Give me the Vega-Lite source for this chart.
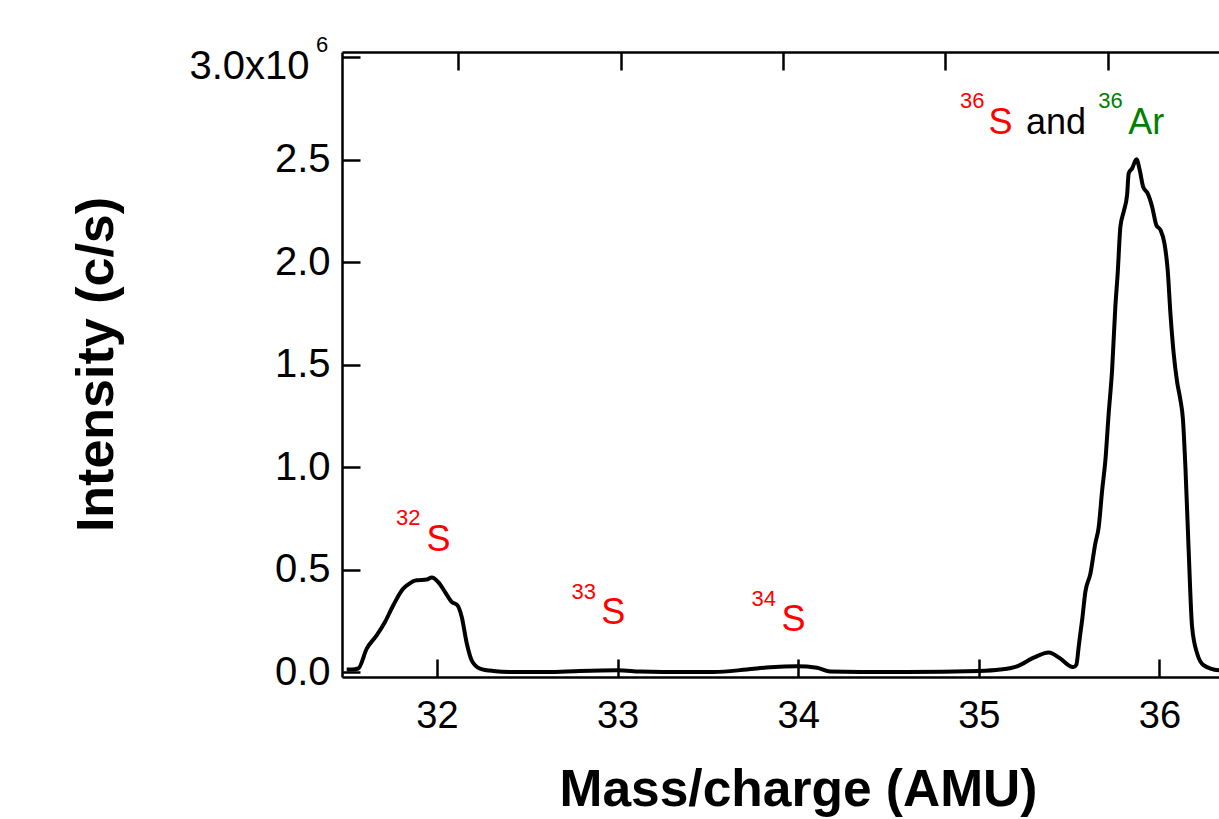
{
  "$schema": "https://vega.github.io/schema/vega-lite/v6.json",
  "width": 877,
  "height": 625,
  "autosize": {"type": "none"},
  "padding": {"left": 342, "top": 52, "right": 0, "bottom": 142},
  "background": "white",
  "config": {
    "view": {"stroke": null},
    "font": "Liberation Sans",
    "axis": {"grid": false, "labelFont": "Liberation Sans", "titleFont": "Liberation Sans", "labelColor": "black", "titleColor": "black", "domainColor": "black", "tickColor": "black"},
    "axisLeft": {
      "tickSize": -18, "tickWidth": 2.5, "domainWidth": 2.5,
      "labelFontSize": 40, "labelPadding": 30, "labelOverlap": false, "labelFlush": false,
      "titleFontSize": 52, "titleFontWeight": "bold",
      "titleX": -246, "titleY": 312, "titleBaseline": "middle", "titleAngle": -90
    }
  },
  "datasets": {
    "spectrum": [
      {"mz": 31.50, "intensity": 12000},
      {"mz": 31.53, "intensity": 12000},
      {"mz": 31.564, "intensity": 17000},
      {"mz": 31.611, "intensity": 114000},
      {"mz": 31.666, "intensity": 179000},
      {"mz": 31.712, "intensity": 244000},
      {"mz": 31.758, "intensity": 326000},
      {"mz": 31.813, "intensity": 407000},
      {"mz": 31.841, "intensity": 428000},
      {"mz": 31.888, "intensity": 448000},
      {"mz": 31.943, "intensity": 451000},
      {"mz": 31.971, "intensity": 461000},
      {"mz": 32.007, "intensity": 439000},
      {"mz": 32.044, "intensity": 391000},
      {"mz": 32.081, "intensity": 342000},
      {"mz": 32.113, "intensity": 326000},
      {"mz": 32.137, "intensity": 269000},
      {"mz": 32.165, "intensity": 139000},
      {"mz": 32.192, "intensity": 57000},
      {"mz": 32.238, "intensity": 17000},
      {"mz": 32.312, "intensity": 5000},
      {"mz": 32.42, "intensity": 0},
      {"mz": 32.61, "intensity": 0},
      {"mz": 32.79, "intensity": 5000},
      {"mz": 33.0, "intensity": 8000},
      {"mz": 33.125, "intensity": 2000},
      {"mz": 33.254, "intensity": 0},
      {"mz": 33.53, "intensity": 0},
      {"mz": 33.715, "intensity": 12000},
      {"mz": 33.845, "intensity": 23000},
      {"mz": 33.993, "intensity": 28000},
      {"mz": 34.104, "intensity": 21000},
      {"mz": 34.177, "intensity": 2000},
      {"mz": 34.343, "intensity": 0},
      {"mz": 34.6, "intensity": 0},
      {"mz": 35.0, "intensity": 5000},
      {"mz": 35.119, "intensity": 12000},
      {"mz": 35.212, "intensity": 28000},
      {"mz": 35.304, "intensity": 70000},
      {"mz": 35.387, "intensity": 95000},
      {"mz": 35.452, "intensity": 65000},
      {"mz": 35.507, "intensity": 28000},
      {"mz": 35.525, "intensity": 24000},
      {"mz": 35.540, "intensity": 35000},
      {"mz": 35.553, "intensity": 122000},
      {"mz": 35.562, "intensity": 187000},
      {"mz": 35.572, "intensity": 252000},
      {"mz": 35.590, "intensity": 391000},
      {"mz": 35.618, "intensity": 480000},
      {"mz": 35.645, "intensity": 627000},
      {"mz": 35.664, "intensity": 708000},
      {"mz": 35.683, "intensity": 887000},
      {"mz": 35.701, "intensity": 1034000},
      {"mz": 35.719, "intensity": 1260000},
      {"mz": 35.738, "intensity": 1473000},
      {"mz": 35.756, "intensity": 1782000},
      {"mz": 35.769, "intensity": 1945000},
      {"mz": 35.784, "intensity": 2173000},
      {"mz": 35.802, "intensity": 2246000},
      {"mz": 35.821, "intensity": 2328000},
      {"mz": 35.830, "intensity": 2434000},
      {"mz": 35.849, "intensity": 2458000},
      {"mz": 35.873, "intensity": 2502000},
      {"mz": 35.891, "intensity": 2450000},
      {"mz": 35.910, "intensity": 2368000},
      {"mz": 35.935, "intensity": 2336000},
      {"mz": 35.960, "intensity": 2270000},
      {"mz": 35.983, "intensity": 2181000},
      {"mz": 36.006, "intensity": 2157000},
      {"mz": 36.028, "intensity": 2092000},
      {"mz": 36.046, "intensity": 1961000},
      {"mz": 36.061, "intensity": 1750000},
      {"mz": 36.079, "intensity": 1555000},
      {"mz": 36.098, "intensity": 1416000},
      {"mz": 36.116, "intensity": 1330000},
      {"mz": 36.130, "intensity": 1237000},
      {"mz": 36.144, "intensity": 1001000},
      {"mz": 36.162, "intensity": 594000},
      {"mz": 36.181, "intensity": 220000},
      {"mz": 36.209, "intensity": 90000},
      {"mz": 36.245, "intensity": 33000},
      {"mz": 36.33, "intensity": 8000},
      {"mz": 36.40, "intensity": 5000}
    ],
    "labels": [
      {"mz": 31.942, "intensity": 591000, "text": "S", "kind": "S"},
      {"mz": 32.909, "intensity": 236000, "text": "S", "kind": "S"},
      {"mz": 33.907, "intensity": 199000, "text": "S", "kind": "S"},
      {"mz": 35.054, "intensity": 2628000, "text": "S", "kind": "S"},
      {"mz": 35.261, "intensity": 2628000, "text": "and", "kind": "other"},
      {"mz": 35.828, "intensity": 2628000, "text": "Ar", "kind": "Ar"}
    ],
    "sups": [
      {"mz": 31.773, "intensity": 716000, "text": "32", "kind": "S"},
      {"mz": 32.745, "intensity": 358000, "text": "33", "kind": "S"},
      {"mz": 33.742, "intensity": 320000, "text": "34", "kind": "S"},
      {"mz": 34.896, "intensity": 2752000, "text": "36", "kind": "S"},
      {"mz": 35.662, "intensity": 2752000, "text": "36", "kind": "Ar"},
      {"mz": 31.330, "intensity": 3027000, "text": "6", "kind": "other"}
    ],
    "scaleLabel": [
      {"mz": 31.294, "intensity": 2893000, "text": "3.0x10"}
    ]
  },
  "layer": [
    {
      "data": {"name": "spectrum"},
      "mark": {"type": "line", "color": "black", "strokeWidth": 4, "clip": true, "interpolate": "monotone", "strokeJoin": "round"},
      "encoding": {
        "x": {
          "field": "mz", "type": "quantitative",
          "scale": {"domain": [31.474, 36.33], "nice": false, "zero": false},
          "axis": {
            "orient": "bottom", "values": [32, 33, 34, 35, 36], "format": "d",
            "tickSize": -18, "tickWidth": 2.5, "domainWidth": 2.5,
            "labelFontSize": 38, "labelPadding": 38, "labelOverlap": false, "labelFlush": false,
            "title": "Mass/charge (AMU)", "titleFontSize": 51.5, "titleFontWeight": "bold",
            "titleX": 456, "titleY": 113, "titleBaseline": "middle"
          }
        },
        "y": {
          "field": "intensity", "type": "quantitative",
          "scale": {"domain": [-24400, 3026000], "nice": false, "zero": false},
          "axis": {"orient": "left", "title": "Intensity (c/s)", "values": [0, 500000, 1000000, 1500000, 2000000, 2500000, 3000000], "labelExpr": "datum.value == 3000000 ? '' : format(datum.value / 1000000, '.1f')"}
        }
      }
    },
    {
      "data": {"name": "labels"},
      "mark": {"type": "text", "fontSize": 36, "align": "left", "baseline": "alphabetic", "font": "Liberation Sans"},
      "encoding": {
        "x": {
          "field": "mz", "type": "quantitative",
          "axis": {
            "orient": "top", "values": [32.116, 33.017, 33.917, 34.814, 35.717],
            "labels": false, "title": null, "tickSize": -18, "tickWidth": 2.5, "domainWidth": 2.5
          }
        },
        "y": {"field": "intensity", "type": "quantitative", "axis": {"orient": "left", "title": "Intensity (c/s)", "values": [0, 500000, 1000000, 1500000, 2000000, 2500000, 3000000], "labelExpr": "datum.value == 3000000 ? '' : format(datum.value / 1000000, '.1f')"}},
        "text": {"field": "text"},
        "color": {"field": "kind", "type": "nominal", "scale": {"domain": ["S", "Ar", "other"], "range": ["#ff0000", "#007f00", "#000000"]}, "legend": null}
      }
    },
    {
      "data": {"name": "sups"},
      "mark": {"type": "text", "fontSize": 22, "align": "left", "baseline": "alphabetic", "font": "Liberation Sans"},
      "encoding": {
        "x": {"field": "mz", "type": "quantitative", "axis": null},
        "y": {"field": "intensity", "type": "quantitative", "axis": {"orient": "left", "title": "Intensity (c/s)", "values": [0, 500000, 1000000, 1500000, 2000000, 2500000, 3000000], "labelExpr": "datum.value == 3000000 ? '' : format(datum.value / 1000000, '.1f')"}},
        "text": {"field": "text"},
        "color": {"field": "kind", "type": "nominal", "legend": null}
      }
    },
    {
      "data": {"name": "scaleLabel"},
      "mark": {"type": "text", "fontSize": 40, "align": "right", "baseline": "alphabetic", "font": "Liberation Sans", "color": "black"},
      "encoding": {
        "x": {"field": "mz", "type": "quantitative", "axis": null},
        "y": {"field": "intensity", "type": "quantitative", "axis": {"orient": "left", "title": "Intensity (c/s)", "values": [0, 500000, 1000000, 1500000, 2000000, 2500000, 3000000], "labelExpr": "datum.value == 3000000 ? '' : format(datum.value / 1000000, '.1f')"}},
        "text": {"field": "text"}
      }
    }
  ]
}
